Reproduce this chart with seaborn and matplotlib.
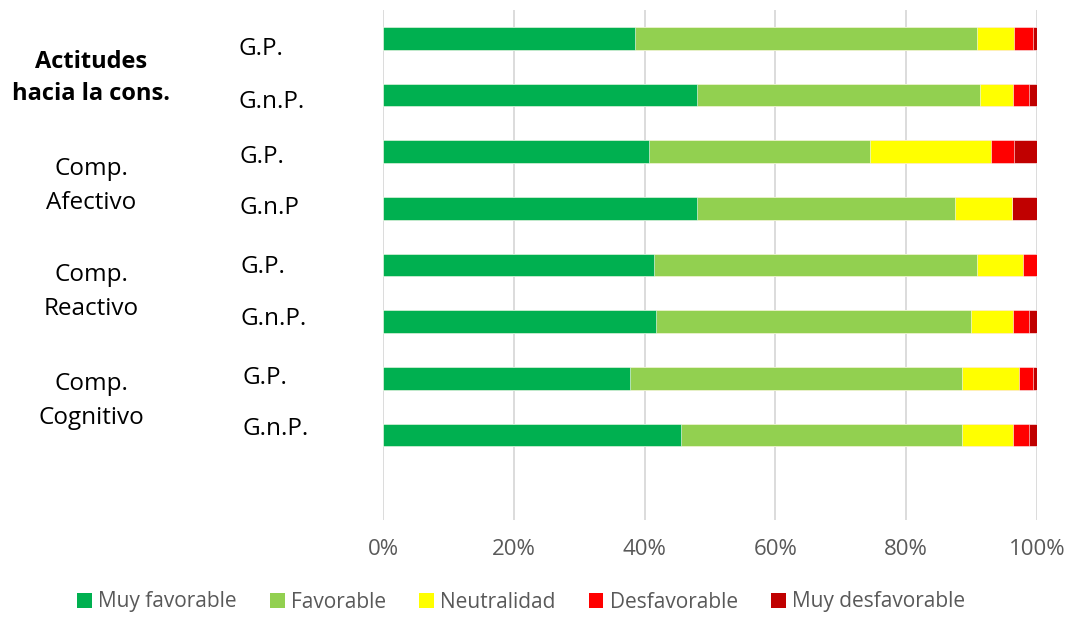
import numpy as np
import pandas as pd
import matplotlib
matplotlib.use("Agg")
import matplotlib.pyplot as plt
import matplotlib.transforms as mtransforms
from matplotlib.patches import Patch
import seaborn as sns

# ---- data ----
rows = ["A-GP", "A-GnP", "Af-GP", "Af-GnP", "R-GP", "R-GnP", "C-GP", "C-GnP"]
row_labels = ["G.P.", "G.n.P.", "G.P.", "G.n.P", "G.P.", "G.n.P.", "G.P.", "G.n.P."]
group_labels = ["Actitudes\nhacia la cons.", "Comp.\nAfectivo", "Comp.\nReactivo", "Comp.\nCognitivo"]
series = ["Muy favorable", "Favorable", "Neutralidad", "Desfavorable", "Muy desfavorable"]
muy_favorable = [38.5, 48.0, 40.6, 48.0, 41.4, 41.7, 37.8, 45.5]
favorable = [52.3, 43.3, 33.8, 39.4, 49.4, 48.2, 50.8, 43.1]
neutralidad = [5.7, 5.0, 18.5, 8.8, 7.1, 6.4, 8.6, 7.7]
desfavorable = [2.9, 2.5, 3.6, 0.0, 2.1, 2.5, 2.2, 2.5]
muy_desfavorable = [0.6, 1.2, 3.5, 3.8, 0.0, 1.2, 0.6, 1.2]
xticks = [0, 20, 40, 60, 80, 100]
xticklabels = ["0%", "20%", "40%", "60%", "80%", "100%"]

colors = ["#00B050", "#92D050", "#FFFF00", "#FF0000", "#C00000"]

vals = np.array([muy_favorable, favorable, neutralidad, desfavorable, muy_desfavorable], dtype=float)
tot = vals.sum(axis=0)
pct = vals / tot * 100
cum = np.cumsum(pct, axis=0)

sns.set_style("white")
plt.rcParams["font.family"] = ["Open Sans", "DejaVu Sans"]

fig = plt.figure(figsize=(10.7, 6.17), dpi=100)
ax = fig.add_axes([383 / 1070, 1 - 520 / 617, (1037 - 383) / 1070, 510 / 617])

for i in range(len(series) - 1, -1, -1):
    df = pd.DataFrame({"row": rows, "value": cum[i]})
    sns.barplot(data=df, y="row", x="value", orient="h", order=rows, color=colors[i],
                width=0.4, ax=ax, saturation=1, edgecolor="white", linewidth=0.4, zorder=3)

ax.set_xlim(0, 100)
ax.set_ylim(8.5, -0.5)
ax.set_xticks(xticks)
ax.set_xticklabels(xticklabels, fontsize=16, color="#595959")
ax.tick_params(axis="x", length=0, pad=14)
ax.set_yticks([])
ax.set_xlabel("")
ax.set_ylabel("")
ax.grid(axis="x", color="#D9D9D9", linewidth=1.3, zorder=0)
ax.set_axisbelow(True)
for s in ax.spines.values():
    s.set_visible(False)

trans = mtransforms.blended_transform_factory(fig.transFigure, ax.transData)
label_y = [0.19, 1.12, 2.09, 2.99, 4.03, 4.95, 5.99, 6.89]
label_x = [238, 238, 239, 239, 240, 241, 242, 243]
for lab, y, x in zip(row_labels, label_y, label_x):
    ax.text(x / 1070, y, lab, transform=trans, ha="left", va="center", fontsize=17.5, color="black")

group_y = [0.7, 2.6, 4.47, 6.4]
for j, (lab, y) in enumerate(zip(group_labels, group_y)):
    ax.text(91 / 1070, y, lab, transform=trans, ha="center", va="center",
            fontsize=17 if j == 0 else 17.5,
            fontweight="bold" if j == 0 else "normal", color="black",
            linespacing=1.5 if j == 0 else 1.55)

handles = [Patch(facecolor=c, edgecolor="none") for c in colors]
leg = fig.legend(handles, series, loc="center", bbox_to_anchor=(0.487, 1 - 602 / 617), ncol=5,
                 frameon=False, fontsize=15, handlelength=0.7, handleheight=0.7,
                 handletextpad=0.3, columnspacing=1.6)
for t in leg.get_texts():
    t.set_color("#595959")

fig.savefig("out.png", dpi=100)
